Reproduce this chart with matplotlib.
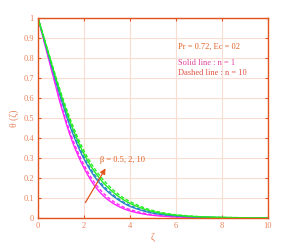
import matplotlib
matplotlib.use("Agg")
import matplotlib.pyplot as plt
import numpy as np

zeta = [0, 0.5, 1, 1.5, 2, 2.5, 3, 3.5, 4, 5, 6, 7, 8, 9, 10]

# beta = 0.5 (magenta), 2 (blue), 10 (green); solid n = 1, dashed n = 10
mag_solid  = [1, 0.78, 0.56, 0.38, 0.25, 0.155, 0.095, 0.058, 0.035, 0.013, 0.005, 0.002, 0.001, 0.0, 0.0]
mag_dash   = [1, 0.785, 0.57, 0.395, 0.265, 0.17, 0.107, 0.067, 0.042, 0.016, 0.006, 0.0025, 0.001, 0.0, 0.0]
blue_solid = [1, 0.795, 0.595, 0.425, 0.295, 0.20, 0.135, 0.09, 0.058, 0.024, 0.01, 0.004, 0.0015, 0.0005, 0.0]
blue_dash  = [1, 0.80, 0.605, 0.435, 0.305, 0.21, 0.143, 0.096, 0.063, 0.027, 0.011, 0.0045, 0.002, 0.001, 0.0]
grn_solid  = [1, 0.805, 0.615, 0.45, 0.32, 0.225, 0.157, 0.108, 0.073, 0.032, 0.014, 0.006, 0.0025, 0.001, 0.0]
grn_dash   = [1, 0.81, 0.625, 0.465, 0.335, 0.24, 0.17, 0.118, 0.082, 0.037, 0.016, 0.007, 0.003, 0.001, 0.0]

xticks = [0, 2, 4, 6, 8, 10]
yticks = [0, 0.1, 0.2, 0.3, 0.4, 0.5, 0.6, 0.7, 0.8, 0.9, 1]
ytick_labels = ["0", "0.1", "0.2", "0.3", "0.4", "0.5", "0.6", "0.7", "0.8", "0.9", "1"]

plt.rcParams['font.family'] = ['Liberation Serif', 'DejaVu Serif']

axis_c = '#e2541c'
label_c = '#e8825a'
grid_c = '#f9ddd3'
MAG = '#ff22ff'
BLUE = '#2a86c8'
GRN = '#22ee22'

fig = plt.figure(figsize=(2.97, 2.46), dpi=100)
ax = fig.add_axes([0.128, 0.114, 0.774, 0.813])

def smooth(x, y):
    xs = np.linspace(0, 10, 400)
    from numpy import interp
    # monotone cubic (PCHIP-like) via simple Fritsch-Carlson
    x = np.asarray(x, float); y = np.asarray(y, float)
    h = np.diff(x); d = np.diff(y) / h
    m = np.zeros_like(y)
    m[0] = d[0]; m[-1] = d[-1]
    for i in range(1, len(y) - 1):
        if d[i - 1] * d[i] <= 0:
            m[i] = 0
        else:
            w1 = 2 * h[i] + h[i - 1]; w2 = h[i] + 2 * h[i - 1]
            m[i] = (w1 + w2) / (w1 / d[i - 1] + w2 / d[i])
    idx = np.clip(np.searchsorted(x, xs) - 1, 0, len(x) - 2)
    t = (xs - x[idx]) / h[idx]
    h00 = 2 * t**3 - 3 * t**2 + 1; h10 = t**3 - 2 * t**2 + t
    h01 = -2 * t**3 + 3 * t**2; h11 = t**3 - t**2
    ys = h00 * y[idx] + h10 * h[idx] * m[idx] + h01 * y[idx + 1] + h11 * h[idx] * m[idx + 1]
    return xs, ys

for yv, c, ls in [(mag_solid, MAG, '-'), (mag_dash, MAG, (0, (2.5, 1.5))),
                  (blue_solid, BLUE, '-'), (blue_dash, BLUE, (0, (2.5, 1.5))),
                  (grn_solid, GRN, '-'), (grn_dash, GRN, (0, (2.5, 1.5)))]:
    xs, ys = smooth(zeta, yv)
    ax.plot(xs, ys, color=c, lw=1.0, linestyle=ls)

ax.set_xlim(0, 10)
ax.set_ylim(0, 1)
ax.set_xticks(xticks)
ax.set_yticks(yticks)
ax.set_yticklabels(ytick_labels)
ax.grid(True, color=grid_c, lw=0.8)
ax.set_axisbelow(True)
for s in ax.spines.values():
    s.set_color(axis_c)
    s.set_linewidth(1.0)
ax.tick_params(direction='in', length=2.5, width=0.8, color=axis_c,
               labelcolor=label_c, labelsize=6, top=True, right=True, pad=3)

ax.set_xlabel('ζ', color=label_c, fontsize=7, labelpad=2)
ax.set_ylabel('θ (ζ)', color=label_c, fontsize=7, labelpad=3)

ax.text(6.1, 0.855, 'Pr = 0.72, Ec = 02', color='#e06020', fontsize=6, va='center')
ax.text(6.1, 0.775, 'Solid line : n = 1', color='#e0409a', fontsize=6, va='center')
ax.text(6.1, 0.725, 'Dashed line : n = 10', color='#e05040', fontsize=6, va='center')

ax.annotate('', xy=(3.0, 0.26), xytext=(2.0, 0.065),
            arrowprops=dict(arrowstyle='-|>', color='#e2541c', lw=0.9, mutation_scale=8))
ax.text(2.7, 0.29, 'β = 0.5, 2, 10', color='#e06020', fontsize=6, va='center')

fig.savefig('out.png', dpi=100)
